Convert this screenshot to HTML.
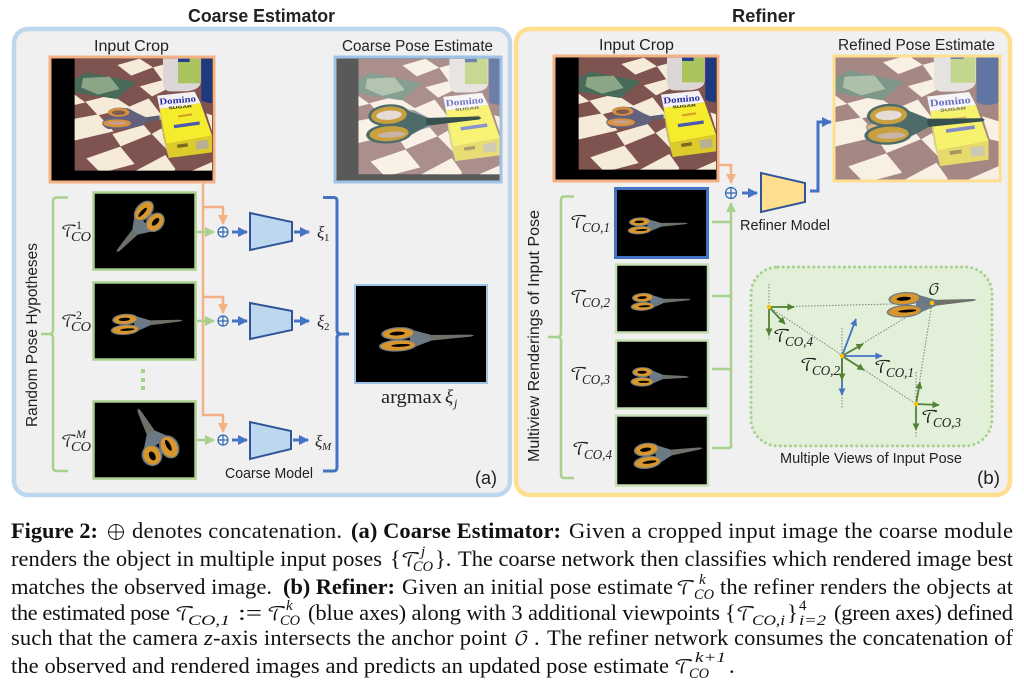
<!DOCTYPE html>
<html><head><meta charset="utf-8"><style>
html,body{margin:0;padding:0;background:#fff}
svg{display:block}
.s{font-family:"Liberation Sans",sans-serif;fill:#222}
.c{font-family:"Liberation Serif",serif;font-size:22.5px;fill:#111}
.b{font-weight:bold}
.m{font-family:"Liberation Serif",serif;font-style:italic;fill:#222}
.t{font-family:"DejaVu Math TeX Gyre","DejaVu Sans","Noto Sans CJK JP",sans-serif;font-style:normal}
</style></head><body>
<svg xmlns="http://www.w3.org/2000/svg" width="1024" height="687" viewBox="0 0 1024 687">
<defs>
<marker id="ao" markerUnits="userSpaceOnUse" markerWidth="12" markerHeight="12" refX="9" refY="5" orient="auto" overflow="visible"><path d="M0,0L10,5L0,10Z" fill="#f4b183"/></marker>
<marker id="ag" markerUnits="userSpaceOnUse" markerWidth="12" markerHeight="12" refX="9" refY="5" orient="auto" overflow="visible"><path d="M0,0L10,5L0,10Z" fill="#a9d18e"/></marker>
<marker id="ab" markerUnits="userSpaceOnUse" markerWidth="12" markerHeight="12" refX="9" refY="5" orient="auto" overflow="visible"><path d="M0,0L10,5L0,10Z" fill="#4472c4"/></marker>
<marker id="dg" markerUnits="userSpaceOnUse" markerWidth="9" markerHeight="9" refX="6.500" refY="3.500" orient="auto" overflow="visible"><path d="M0,0L7,3.500L0,7Z" fill="#548235"/></marker>
<marker id="db" markerUnits="userSpaceOnUse" markerWidth="9" markerHeight="9" refX="6.500" refY="3.500" orient="auto" overflow="visible"><path d="M0,0L7,3.500L0,7Z" fill="#4472c4"/></marker>
<clipPath id="cropc"><rect x="80" y="14" width="412" height="336"/></clipPath>
<clipPath id="coarsec"><rect x="334" y="56" width="168" height="127"/></clipPath>
<clipPath id="refc"><rect x="833" y="55" width="168" height="127"/></clipPath>
<g id="sc">
<polygon points="0,-4 46,-1.500 50,0 46,1.200 0,4" fill="#6d716a"/>
<path d="M4,-4L-18,-13L-18,13L4,4Z" fill="#6b7a85"/>
<ellipse cx="-30" cy="-8" rx="18" ry="8.500" fill="#6b7a85"/><ellipse cx="-30" cy="-8" rx="16" ry="7" fill="#d8962e"/><ellipse cx="-31" cy="-8" rx="8" ry="2.500" fill="#000"/>
<ellipse cx="-31" cy="8" rx="20" ry="8" fill="#6b7a85"/><ellipse cx="-31" cy="8" rx="18" ry="6.500" fill="#d8962e"/><ellipse cx="-28" cy="8" rx="10" ry="1.800" fill="#000"/>
</g>
<g id="st">
<polygon points="0,-3.500 48,-1.400 50,0 48,1.200 0,3.500" fill="#36504e"/>
<path d="M2,-4L-22,-15L-22,15L2,4Z" fill="#4d6b6b"/>
<ellipse cx="-30" cy="-8" rx="18" ry="9.500" fill="#4d6b6b"/><ellipse cx="-30" cy="-8" rx="15.500" ry="7.500" fill="#c9a040"/><ellipse cx="-30" cy="-8" rx="11" ry="4" fill="#e6dcd6"/>
<ellipse cx="-31" cy="8" rx="20" ry="8.500" fill="#4d6b6b"/><ellipse cx="-31" cy="8" rx="17" ry="6.500" fill="#c9a040"/><ellipse cx="-29" cy="9" rx="12" ry="2.500" fill="#c8b4a8"/>
</g>
<g id="scene">
<rect x="60" y="0" width="540" height="400" fill="#7e5350"/>
<g fill="#f6ead9">
<polygon points="208,33 275,14 315,40 250,65"/>
<polygon points="315,40 345,32 362,70 345,82"/>
<polygon points="60,108 112,145 60,158"/>
<polygon points="112,143 190,123 248,160 150,184"/>
<polygon points="275,97 345,78 352,108 312,127"/>
<polygon points="60,198 150,181 197,232 60,264"/>
<polygon points="238,160 302,133 338,180 338,197 268,202"/>
<polygon points="193,240 287,213 310,240 218,277"/>
<polygon points="115,313 217,278 260,330 158,357"/>
<polygon points="311,240 340,223 362,292"/>
<polygon points="260,352 352,303 382,345 372,362"/>
<polygon points="475,178 540,198 540,250 495,240"/>
<polygon points="428,352 540,303 540,362 428,362"/>
</g>
<polygon points="80,75 115,55 265,85 205,135 80,115" fill="#486a58"/>
<polygon points="105,72 185,68 215,105 150,122 100,100" fill="#8aa686"/>
<path d="M345,0H458V85Q455,112 400,112H365Q345,110 345,85Z" fill="#dcd6d6"/>
<rect x="390" y="0" width="66" height="88" fill="#a9c45c"/>
<rect x="390" y="12" width="35" height="12" fill="#23408a"/>
<path d="M460,0H522V140Q490,155 460,140Z" fill="#1e3a7c"/>
<polygon points="327,125 440,113 458,148 335,165" fill="#f3f1f4"/>
<polygon points="335,165 458,148 492,245 355,270" fill="#f4ec2c"/>
<polygon points="355,270 492,245 492,295 362,312" fill="#dccb2a"/>
<polygon points="335,165 355,270 362,312 345,250" fill="#c9c260"/>
<text x="335" y="152" font-family="Liberation Serif,serif" font-weight="bold" font-size="27" fill="#2a2fa8" textLength="110" lengthAdjust="spacingAndGlyphs" transform="rotate(-5 335 152)">Domino</text>
<text x="362" y="166" font-family="Liberation Sans,sans-serif" font-weight="bold" font-size="11" fill="#222" textLength="70" lengthAdjust="spacingAndGlyphs" transform="rotate(-5 362 166)">SUGAR</text>
<rect x="377" y="213" width="78" height="10" fill="#4b5ab0" transform="rotate(-8 377 213)"/>
<rect x="390" y="184" width="42" height="6" fill="#d89a2a" transform="rotate(-8 390 184)"/>
<rect x="442" y="262" width="38" height="26" fill="#b8b090" transform="rotate(-8 442 262)"/>
<rect x="387" y="272" width="32" height="10" fill="#7a6a20" transform="rotate(-8 387 272)"/>
<polygon points="290,190 335,184 335,198 290,205" fill="#5d5f70"/>
<path d="M245,165 Q270,180 300,192 L290,212 Q255,225 180,225 Q160,215 163,205 Q170,190 190,190 Q175,180 182,170 Q200,155 245,165Z" fill="#62627e"/>
<ellipse cx="212" cy="175" rx="32" ry="13" fill="#d8923e"/><ellipse cx="212" cy="176" rx="20" ry="7" fill="#7e5a50"/>
<ellipse cx="207" cy="208" rx="42" ry="12" fill="#d8923e"/><ellipse cx="207" cy="207" rx="28" ry="5" fill="#c6a090"/>
</g>
</defs>

<!-- panels -->
<rect x="14" y="29" width="496" height="466" rx="14" fill="#f0f0f0" stroke="#bdd7ee" stroke-width="4.500"/>
<rect x="516" y="29" width="494" height="466" rx="14" fill="#f0f0f0" stroke="#ffdf8f" stroke-width="4.500"/>

<!-- titles -->
<text class="s b" x="188" y="22" font-size="18" textLength="147" lengthAdjust="spacingAndGlyphs">Coarse Estimator</text>
<text class="s b" x="732" y="22" font-size="18" textLength="63" lengthAdjust="spacingAndGlyphs">Refiner</text>
<text class="s" x="94" y="51" font-size="15.500" textLength="75" lengthAdjust="spacingAndGlyphs">Input Crop</text>
<text class="s" x="342" y="51" font-size="15.500" textLength="151" lengthAdjust="spacingAndGlyphs">Coarse Pose Estimate</text>
<text class="s" x="599" y="50" font-size="15.500" textLength="75" lengthAdjust="spacingAndGlyphs">Input Crop</text>
<text class="s" x="838" y="50" font-size="15.500" textLength="157" lengthAdjust="spacingAndGlyphs">Refined Pose Estimate</text>

<!-- crops -->
<rect x="50" y="57" width="164" height="125" fill="#000"/>
<g transform="translate(48,54) scale(.33333)"><g clip-path="url(#cropc)"><use href="#scene"/></g></g>
<rect x="50" y="57" width="164" height="125" fill="none" stroke="#f4b183" stroke-width="3"/>

<g clip-path="url(#coarsec)">
<rect x="334" y="56" width="168" height="127" fill="#000"/>
<g transform="translate(331,54) scale(.3434)"><g clip-path="url(#cropc)"><use href="#scene"/></g></g>
<rect x="334" y="56" width="168" height="127" fill="#fff" fill-opacity=".35"/>
<use href="#st" transform="translate(424,122) rotate(-4) scale(1.150)"/>
</g>
<rect x="335" y="57" width="166" height="125" fill="none" stroke="#9dc3e6" stroke-width="3"/>

<rect x="554" y="56" width="164" height="125" fill="#000"/>
<g transform="translate(552,53) scale(.33333)"><g clip-path="url(#cropc)"><use href="#scene"/></g></g>
<rect x="554" y="56" width="164" height="125" fill="none" stroke="#f4b183" stroke-width="3"/>

<g clip-path="url(#refc)">
<g transform="translate(805.500,50) scale(.372)"><use href="#scene"/></g>
<rect x="833" y="55" width="168" height="127" fill="#fff" fill-opacity=".3"/>
<use href="#st" transform="translate(925,123) rotate(-3) scale(1.200)"/>
</g>
<rect x="834" y="56" width="166" height="125" fill="none" stroke="#ffdf8f" stroke-width="3"/>

<!-- left thumbs -->
<g fill="#000" stroke="#a9d18e" stroke-width="2.500">
<rect x="93.500" y="192.500" width="102" height="77"/>
<rect x="93.500" y="282.500" width="102" height="77"/>
<rect x="93.500" y="401.500" width="102" height="77"/>
</g>
<use href="#sc" transform="translate(137,230) rotate(133) scale(.6,1)"/>
<use href="#sc" transform="translate(147,323) rotate(-4) scale(.72,.65)"/>
<use href="#sc" transform="translate(152,435) rotate(-118) scale(.6,1.200)"/>

<!-- left orange -->
<g fill="none" stroke="#f4b183" stroke-width="2.500">
<path d="M203,183V415H223V432" marker-end="url(#ao)"/>
<path d="M203,207H223V224" marker-end="url(#ao)"/>
<path d="M203,297H223V313" marker-end="url(#ao)"/>
</g>
<!-- left green arrows -->
<g fill="none" stroke="#a9d18e" stroke-width="2.500">
<path d="M197,232H214" marker-end="url(#ag)"/>
<path d="M197,321H214" marker-end="url(#ag)"/>
<path d="M197,440H214" marker-end="url(#ag)"/>
<path d="M68,197.500H57Q53,197.500 53,201V330Q53,334 49,334H41M49,334Q53,334 53,338V467Q53,471 57,471H68"/>
</g>
<g fill="#a9d18e"><rect x="141" y="369" width="4" height="4"/><rect x="141" y="378" width="4" height="4"/><rect x="141" y="386" width="4" height="4"/></g>
<!-- left oplus + blue -->
<g fill="none" stroke="#2f67b5" stroke-width="1.200">
<circle cx="223" cy="232" r="5"/><path d="M218,232H228M223,227V237"/>
<circle cx="223" cy="321" r="5"/><path d="M218,321H228M223,316V326"/>
<circle cx="223" cy="440" r="5"/><path d="M218,440H228M223,435V445"/>
</g>
<g fill="none" stroke="#4472c4" stroke-width="3">
<path d="M232,232H247" marker-end="url(#ab)"/><path d="M294,232H309" marker-end="url(#ab)"/>
<path d="M232,321H247" marker-end="url(#ab)"/><path d="M294,321H309" marker-end="url(#ab)"/>
<path d="M232,440H247" marker-end="url(#ab)"/><path d="M293,440H308" marker-end="url(#ab)"/>
<path d="M323,197.500H334Q337,197.500 337,201V330Q337,334 341,334H349M341,334Q337,334 337,338V467Q337,471 334,471H323"/>
</g>
<g fill="#bdd7ee" stroke="#2f5597" stroke-width="2">
<polygon points="250,213 292,222 292,241 250,250"/>
<polygon points="250,303 292,311 292,330 250,339"/>
<polygon points="250,422 291,431 291,449 250,459"/>
</g>
<!-- final image -->
<rect x="355" y="285" width="132" height="98" fill="#000" stroke="#9dc3e6" stroke-width="2"/>
<use href="#sc" transform="translate(427,338) rotate(-3) scale(.95,.75)"/>

<!-- left labels -->
<text class="s" font-size="16" transform="translate(37,427) rotate(-90)" textLength="184" lengthAdjust="spacingAndGlyphs">Random Pose Hypotheses</text>
<text class="s" x="225" y="478" font-size="14.500" textLength="88" lengthAdjust="spacingAndGlyphs">Coarse Model</text>
<text class="s" x="475" y="484" font-size="18" textLength="22" lengthAdjust="spacingAndGlyphs">(a)</text>
<g class="m">
<text class="t" x="61" y="237" font-size="15.500">𝒯</text><text x="76" y="229" font-size="12" font-style="normal">1</text><text x="71" y="241" font-size="13.500" textLength="20" lengthAdjust="spacingAndGlyphs">CO</text>
<text class="t" x="61" y="327" font-size="15.500">𝒯</text><text x="76" y="319" font-size="12" font-style="normal">2</text><text x="71" y="331" font-size="13.500" textLength="20" lengthAdjust="spacingAndGlyphs">CO</text>
<text class="t" x="61" y="447" font-size="15.500">𝒯</text><text x="76" y="438" font-size="12">M</text><text x="71" y="451" font-size="13.500" textLength="20" lengthAdjust="spacingAndGlyphs">CO</text>
<text x="317" y="238" font-size="17">ξ</text><text x="324" y="241" font-size="11" font-style="normal">1</text>
<text x="317" y="327" font-size="17">ξ</text><text x="324" y="330" font-size="11" font-style="normal">2</text>
<text x="315" y="447" font-size="17">ξ</text><text x="322" y="450" font-size="11">M</text>
<text x="381" y="403" font-size="19" font-style="normal" textLength="61" lengthAdjust="spacingAndGlyphs">argmax</text>
<text x="445" y="403" font-size="19">ξ</text><text x="454" y="407" font-size="12">j</text>
</g>

<!-- right connectors -->
<g fill="none" stroke="#f4b183" stroke-width="2.500"><path d="M719,165H731V183" marker-end="url(#ao)"/></g>
<g fill="none" stroke="#a9d18e" stroke-width="2.500">
<path d="M731,448V203" marker-end="url(#ag)"/>
<path d="M712,222H731M712,296H731M712,369H731M712,448H731"/>
<path d="M574,196.500H564Q561,196.500 561,200V333Q561,337 557,337H548M557,337Q561,337 561,341V474Q561,478 564,478H574"/>
</g>
<g fill="none" stroke="#2f67b5" stroke-width="1.200"><circle cx="731" cy="193" r="5.500"/><path d="M725.500,193H736.500M731,187.500V198.500"/></g>
<g fill="none" stroke="#4472c4" stroke-width="3">
<path d="M742,193H757" marker-end="url(#ab)"/>
<path d="M810,191H818V122H831" marker-end="url(#ab)"/>
</g>
<polygon points="761,173 805,183 805,202 761,212" fill="#ffdf8f" stroke="#2f5597" stroke-width="2"/>

<!-- right thumbs -->
<rect x="615.500" y="188.500" width="92" height="69" fill="#000" stroke="#4472c4" stroke-width="3"/>
<g fill="#000" stroke="#c5e0b4" stroke-width="2.500">
<rect x="616" y="264.500" width="92" height="68"/>
<rect x="616" y="340.500" width="92" height="68"/>
<rect x="616" y="415.500" width="92" height="70"/>
</g>
<use href="#sc" transform="translate(658,225) rotate(-3) scale(.6,.52)"/>
<use href="#sc" transform="translate(661,301) rotate(-3) scale(.6,.55)"/>
<use href="#sc" transform="translate(660,377) rotate(0) scale(.58,.6)"/>
<use href="#sc" transform="translate(668,453) rotate(-8) scale(.7,.8)"/>

<text class="s" font-size="16" transform="translate(539,462) rotate(-90)" textLength="252" lengthAdjust="spacingAndGlyphs">Multiview Renderings of Input Pose</text>
<text class="s" x="740" y="230" font-size="14.500" textLength="90" lengthAdjust="spacingAndGlyphs">Refiner Model</text>
<text class="s" x="780" y="463" font-size="14.500" textLength="182" lengthAdjust="spacingAndGlyphs">Multiple Views of Input Pose</text>
<text class="s" x="977" y="484" font-size="18" textLength="23" lengthAdjust="spacingAndGlyphs">(b)</text>
<g class="m">
<text class="t" x="570" y="228" font-size="17">𝒯</text><text x="582" y="232" font-size="13.500" textLength="28" lengthAdjust="spacingAndGlyphs">CO,1</text>
<text class="t" x="570" y="303" font-size="17">𝒯</text><text x="582" y="307" font-size="13.500" textLength="28" lengthAdjust="spacingAndGlyphs">CO,2</text>
<text class="t" x="570" y="380" font-size="17">𝒯</text><text x="582" y="384" font-size="13.500" textLength="28" lengthAdjust="spacingAndGlyphs">CO,3</text>
<text class="t" x="572" y="455" font-size="17">𝒯</text><text x="584" y="459" font-size="13.500" textLength="28" lengthAdjust="spacingAndGlyphs">CO,4</text>
</g>

<!-- dotted box -->
<rect x="751" y="267" width="241" height="179" rx="27" fill="#e2efd9" stroke="#a9d18e" stroke-width="3" stroke-dasharray="0.1 5" stroke-linecap="round"/>
<g stroke="#808080" stroke-width="1" stroke-dasharray="1.500 1.500" fill="none">
<path d="M769,284V339M842,328V408M916,372V438"/>
<path d="M769,307L932,303M842,356L915,312M769,307L916,404M916,404L932,303"/>
</g>
<use href="#sc" transform="translate(932,303) rotate(-4) scale(.9,.78)"/>
<g stroke="#4472c4" stroke-width="1.800" fill="none">
<path d="M842,356L856,319" marker-end="url(#db)"/>
<path d="M842,356H882" marker-end="url(#db)"/>
<path d="M842,356V395" marker-end="url(#db)"/>
</g>
<g stroke="#548235" stroke-width="1.800" fill="none">
<path d="M769,307H794" marker-end="url(#dg)"/>
<path d="M769,307V335" marker-end="url(#dg)"/>
<path d="M769,307L785,324" marker-end="url(#dg)"/>
<path d="M842,356L863,344" marker-end="url(#dg)"/>
<path d="M842,356V380" marker-end="url(#dg)"/>
<path d="M842,356L864,370" marker-end="url(#dg)"/>
<path d="M916,404L920,382" marker-end="url(#dg)"/>
<path d="M916,404L939,405" marker-end="url(#dg)"/>
<path d="M916,404V430" marker-end="url(#dg)"/>
</g>
<g fill="#ffc000"><circle cx="769" cy="307" r="2.200"/><circle cx="842" cy="356" r="2.200"/><circle cx="916" cy="404" r="2.200"/><circle cx="932" cy="303" r="2.200"/></g>
<g class="m">
<text class="t" x="773" y="342" font-size="17">𝒯</text><text x="785" y="346" font-size="13.500" textLength="28" lengthAdjust="spacingAndGlyphs">CO,4</text>
<text class="t" x="800" y="371" font-size="17">𝒯</text><text x="812" y="375" font-size="13.500" textLength="28" lengthAdjust="spacingAndGlyphs">CO,2</text>
<text class="t" x="874" y="373" font-size="17">𝒯</text><text x="886" y="377" font-size="13.500" textLength="28" lengthAdjust="spacingAndGlyphs">CO,1</text>
<text class="t" x="921" y="423" font-size="17">𝒯</text><text x="933" y="427" font-size="13.500" textLength="28" lengthAdjust="spacingAndGlyphs">CO,3</text>
<text class="t" x="928" y="294" font-size="15">𝒪</text>
</g>

<!-- caption -->
<g class="c">
<text class="b" x="11" y="538" textLength="87" lengthAdjust="spacingAndGlyphs">Figure 2:</text>
<g fill="none" stroke="#111" stroke-width="1"><circle cx="116" cy="532" r="7.500"/><path d="M108.500,532H123.500M116,524.500V539.500"/></g>
<text x="132" y="538" textLength="210">denotes concatenation.</text>
<text class="b" x="351" y="538" textLength="210">(a) Coarse Estimator:</text>
<text x="569" y="538" textLength="444">Given a cropped input image the coarse module</text>

<text x="11" y="566" textLength="371">renders the object in multiple input poses</text>
<text x="390" y="566">{</text><text class="t" x="401" y="566" font-size="19">𝒯</text><text x="421" y="556" font-size="15" font-style="italic">j</text><text x="413" y="571" font-size="15" font-style="italic" textLength="20" lengthAdjust="spacingAndGlyphs">CO</text><text x="435" y="566">}.</text>
<text x="458" y="566" textLength="555">The coarse network then classifies which rendered image best</text>

<text x="11" y="594" textLength="261">matches the observed image.</text>
<text class="b" x="283" y="594" textLength="112">(b) Refiner:</text>
<text x="402" y="594" textLength="271">Given an initial pose estimate</text>
<text class="t" x="676" y="594" font-size="19">𝒯</text><text x="699" y="584" font-size="15" font-style="italic">k</text><text x="694" y="599" font-size="15" font-style="italic" textLength="20" lengthAdjust="spacingAndGlyphs">CO</text>
<text x="720" y="594" textLength="293">the refiner renders the objects at</text>

<text x="11" y="620" textLength="159">the estimated pose</text>
<text class="t" x="175" y="620" font-size="19">𝒯</text><text x="188" y="625" font-size="15" font-style="italic" textLength="42" lengthAdjust="spacingAndGlyphs">CO,1</text>
<text x="238" y="620" textLength="24" lengthAdjust="spacingAndGlyphs">:=</text>
<text class="t" x="267" y="620" font-size="19">𝒯</text><text x="286" y="610" font-size="15" font-style="italic">k</text><text x="280" y="625" font-size="15" font-style="italic" textLength="20" lengthAdjust="spacingAndGlyphs">CO</text>
<text x="308" y="620" textLength="412">(blue axes) along with 3 additional viewpoints</text>
<text x="725" y="620">{</text><text class="t" x="736" y="620" font-size="19">𝒯</text><text x="752" y="625" font-size="15" font-style="italic" textLength="33" lengthAdjust="spacingAndGlyphs">CO,i</text><text x="787" y="620">}</text>
<text x="799" y="610" font-size="15">4</text><text x="799" y="625" font-size="15" font-style="italic" textLength="27" lengthAdjust="spacingAndGlyphs">i=2</text>
<text x="834" y="620" textLength="179">(green axes) defined</text>

<text x="11" y="645" textLength="187">such that the camera</text>
<text x="204" y="645" font-style="italic">z</text>
<text x="213" y="645" textLength="294">-axis intersects the anchor point</text>
<text class="t" x="514" y="645" font-size="19">𝒪</text><text x="534" y="645">.</text>
<text x="547" y="645" textLength="466">The refiner network consumes the concatenation of</text>

<text x="11" y="673" textLength="658">the observed and rendered images and predicts an updated pose estimate</text>
<text class="t" x="674" y="673" font-size="19">𝒯</text><text x="695" y="662" font-size="15" font-style="italic" textLength="31" lengthAdjust="spacingAndGlyphs">k+1</text><text x="689" y="678" font-size="15" font-style="italic" textLength="20" lengthAdjust="spacingAndGlyphs">CO</text>
<text x="729" y="673">.</text>
</g>
</svg>
</body></html>
